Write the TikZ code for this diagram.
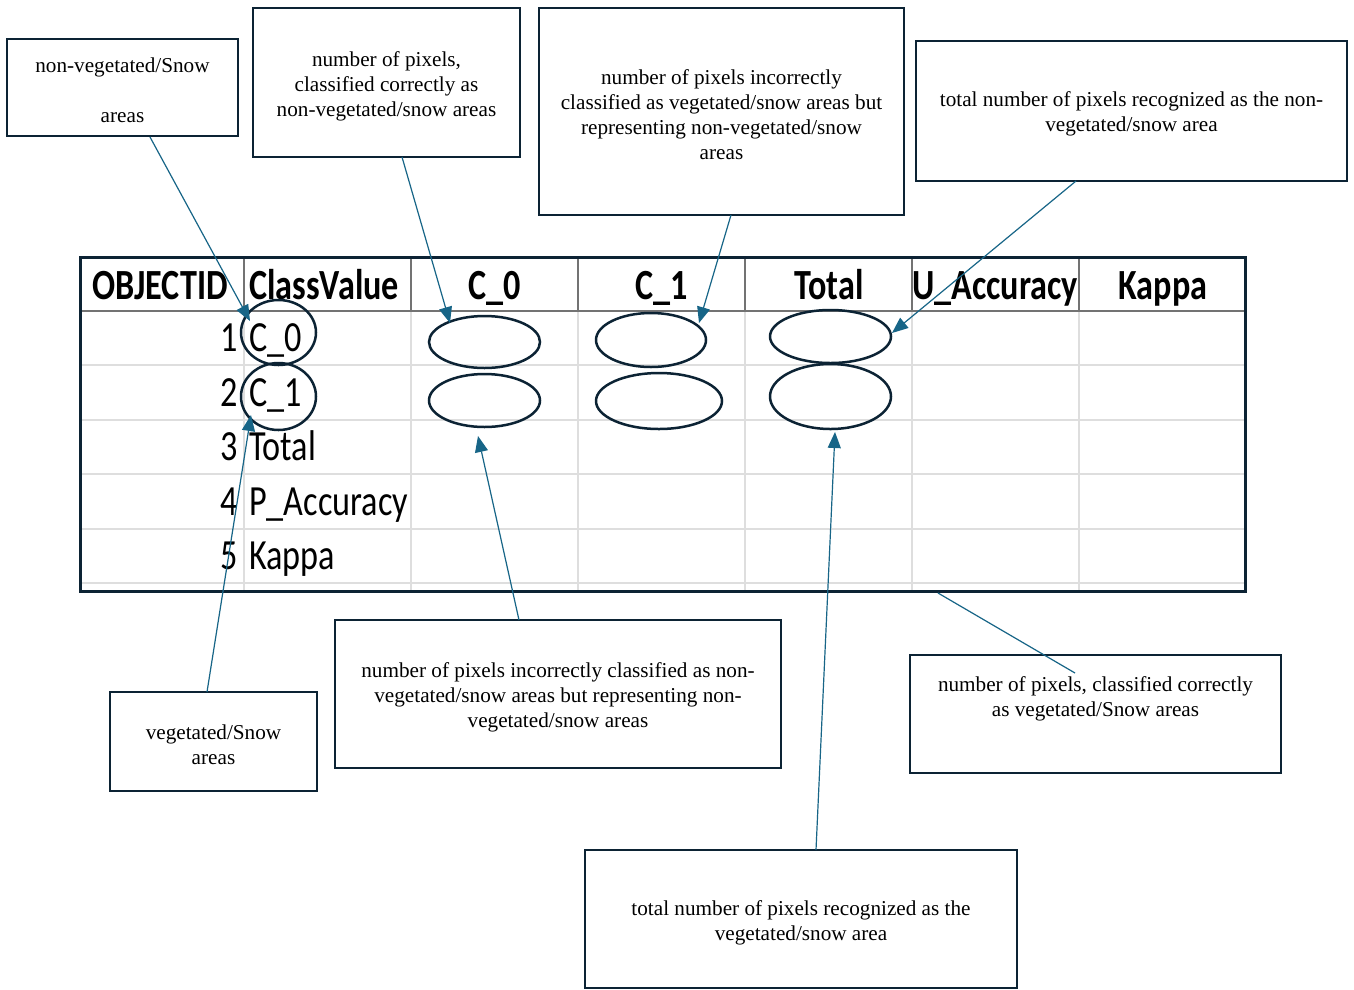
\documentclass[tikz,border=0pt]{standalone}
\usepackage{graphicx}
\usepackage{fontspec}
\setmainfont{Liberation Serif}
\newfontfamily\calibri{Carlito}
\usetikzlibrary{arrows.meta,shapes.geometric}
\definecolor{navy}{RGB}{12,35,52}
\definecolor{tealc}{RGB}{23,101,135}
\definecolor{gridl}{RGB}{222,222,222}
\definecolor{gridd}{RGB}{115,115,115}
\newcommand{\cw}[1]{\scalebox{0.795}[1]{#1}}
\begin{document}
\begin{tikzpicture}[x=1pt,y=-1pt,
  box/.style={draw=navy, line width=2.5pt, rectangle, inner sep=0pt},
  boxtext/.style={inner sep=0pt, align=center, font=\fontsize{21.2}{25}\selectfont},
  ring/.style={draw=navy, line width=2.5pt, ellipse, inner sep=0pt},
  ann/.style={draw=tealc, line width=1.2pt, -{Triangle[length=16pt,width=13pt]}},
  plain/.style={draw=tealc, line width=1.2pt},
  hd/.style={inner sep=0pt, font=\calibri\bfseries\fontsize{43}{43}\selectfont},
  cell/.style={inner sep=0pt, font=\calibri\fontsize{43}{43}\selectfont},
  lgrid/.style={draw=gridl, line width=2pt},
  dgrid/.style={draw=gridd, line width=2pt}
]
\useasboundingbox (0,0) rectangle (1354,989);
\fill[white] (0,0) rectangle (1354,989);

% ---------- table grid ----------
\foreach \yy in {365,420,474,529,583} \draw[lgrid] (80,\yy) -- (1245,\yy);
\foreach \xx in {244,411,578,745,912,1079} \draw[lgrid] (\xx,311) -- (\xx,591);
\foreach \xx in {244,411,578,745,912,1079} \draw[dgrid] (\xx,257) -- (\xx,311);
\draw[dgrid] (80,311) -- (1245,311);
\node[draw=navy, line width=3pt, inner sep=0pt, minimum width=1165pt, minimum height=334pt] (tbl) at (662.5,424) {};

% header
\node[hd, anchor=base] (hObj) at (160,299) {\cw{OBJECTID}};
\node[hd, anchor=base west] (hCls) at (249,299) {\cw{ClassValue}};
\node[hd, anchor=base] (hC0) at (495,299) {\cw{C\_0}};
\node[hd, anchor=base] (hC1) at (662,299) {\cw{C\_1}};
\node[hd, anchor=base] (hTot) at (829,299) {\cw{Total}};
\node[hd, anchor=base west] (hUA) at (912,299) {\cw{U\_Accuracy}};
\node[hd, anchor=base] (hKap) at (1163,299) {\cw{Kappa}};

% body rows
\foreach \n/\lab/\yb in {1/C\_0/351, 2/C\_1/406, 3/Total/460, 4/P\_Accuracy/515, 5/Kappa/569}{
  \node[cell, anchor=base east] (num\n) at (238,\yb) {\cw{\n}};
  \node[cell, anchor=base west] (lab\n) at (249,\yb) {\cw{\lab}};
}

% ellipses
\node[ring, minimum width=75pt, minimum height=65pt] (r1) at (278.5,332.5) {};
\node[ring, minimum width=75pt, minimum height=67pt] (r2) at (278.5,396.5) {};
\node[ring, minimum width=111pt, minimum height=52pt] (e01) at (484.5,342) {};
\node[ring, minimum width=111pt, minimum height=53pt] (e02) at (484.5,400.5) {};
\node[ring, minimum width=110pt, minimum height=54pt] (e11) at (651,340) {};
\node[ring, minimum width=126pt, minimum height=56pt] (e12) at (659,401) {};
\node[ring, minimum width=121pt, minimum height=53pt] (et1) at (830.5,336.5) {};
\node[ring, minimum width=121pt, minimum height=65pt] (et2) at (830.5,396.5) {};

% ---------- annotation boxes ----------
\node[box, minimum width=231pt, minimum height=97pt] (b1) at (122.5,87.5) {};
\node[boxtext] (b1t) at (122.5,90) {non-vegetated/Snow\\[25pt]areas};
\node[box, minimum width=267pt, minimum height=149pt] (b2) at (386.5,82.5) {};
\node[boxtext] (b2t) at (386.5,86) {number of pixels,\\classified correctly as\\non-vegetated/snow areas};
\node[box, minimum width=365pt, minimum height=207pt] (b3) at (721.5,111.5) {};
\node[boxtext] (b3t) at (721.5,115) {number of pixels incorrectly\\classified as vegetated/snow areas but\\representing non-vegetated/snow\\areas};
\node[box, minimum width=431pt, minimum height=140pt] (b4) at (1131.5,111) {};
\node[boxtext] (b4t) at (1131.5,114) {total number of pixels recognized as the non-\\vegetated/snow area};
\node[box, minimum width=207pt, minimum height=99pt] (b5) at (213.5,741.5) {};
\node[boxtext] (b5t) at (213.5,745) {vegetated/Snow\\areas};
\node[box, minimum width=446pt, minimum height=148pt] (b6) at (558,694) {};
\node[boxtext] (b6t) at (558,697.5) {number of pixels incorrectly classified as non-\\vegetated/snow areas but representing non-\\vegetated/snow areas};
\node[box, minimum width=371pt, minimum height=118pt] (b7) at (1095.5,714) {};
\node[boxtext] (b7t) at (1095.5,698.5) {number of pixels, classified correctly\\as vegetated/Snow areas};
\node[box, minimum width=432pt, minimum height=138pt] (b8) at (801,919) {};
\node[boxtext] (b8t) at (801,923) {total number of pixels recognized as the\\vegetated/snow area};

% ---------- connectors ----------
\coordinate (s1) at (150,137);  \coordinate (t1) at (250,321);
\coordinate (s2) at (402,157);  \coordinate (t2) at (450,323);
\coordinate (s3) at (731,215);  \coordinate (t3) at (699,323);
\coordinate (s4) at (1076,181); \coordinate (t4) at (892,333);
\coordinate (s5) at (207,692);  \coordinate (t5) at (251,415);
\coordinate (s6) at (519,620);  \coordinate (t6) at (478,436);
\coordinate (s7) at (816,850);  \coordinate (t7) at (835,432);
\coordinate (s8) at (938,593);  \coordinate (t8) at (1075,673);

\draw[ann] (s1) -- (t1);
\draw[ann] (s2) -- (t2);
\draw[ann] (s3) -- (t3);
\draw[ann] (s4) -- (t4);
\draw[ann] (s5) -- (t5);
\draw[ann] (s6) -- (t6);
\draw[ann] (s7) -- (t7);
\draw[plain] (s8) -- (t8);
\end{tikzpicture}
\end{document}
